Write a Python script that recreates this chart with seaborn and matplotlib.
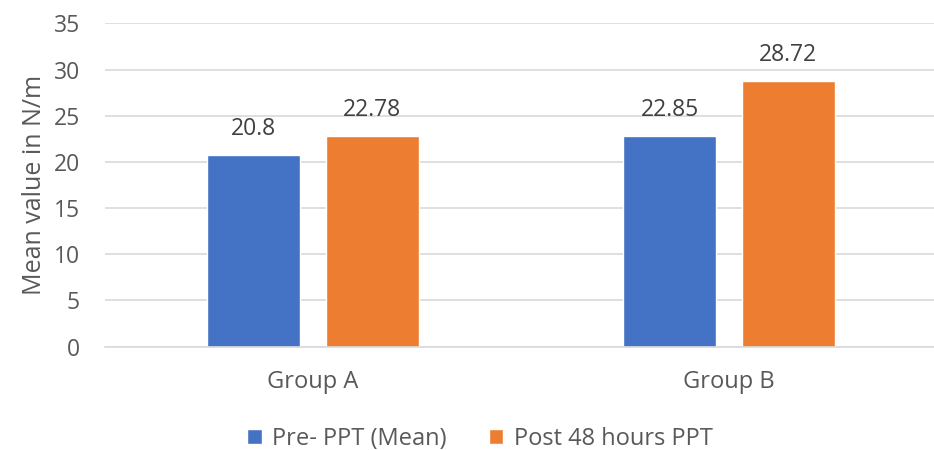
import matplotlib
matplotlib.use("Agg")
import matplotlib.pyplot as plt
import seaborn as sns
import pandas as pd

groups = ["Group A", "Group B"]
series = ["Pre- PPT (Mean)", "Post 48 hours PPT"]
pre_values = [20.8, 22.85]
post_values = [22.78, 28.72]
colors = ["#4472C4", "#ED7D31"]

df = pd.DataFrame({
    "group": groups * 2,
    "series": [series[0]] * 2 + [series[1]] * 2,
    "value": pre_values + post_values,
})

sns.set_theme(style="white")
plt.rcParams["font.family"] = ["Open Sans", "DejaVu Sans"]

fig = plt.figure(figsize=(9.34, 4.5), dpi=100)
ax = fig.add_axes([0.1124, 0.2296, 0.8908, 0.7185])

sns.barplot(data=df, x="group", y="value", hue="series", palette=colors,
            width=0.5714, gap=0.2175, ax=ax, saturation=1, legend=True)

for c in ax.containers:
    ax.bar_label(c, labels=[f"{v:g}" for v in c.datavalues], padding=10,
                 fontsize=16.5, color="#404040")

ax.set_ylim(0, 35)
ax.set_yticks(range(0, 36, 5))
ax.yaxis.grid(True, color="#D9D9D9", linewidth=1.2)
ax.set_axisbelow(True)
for s in ["top", "right", "left"]:
    ax.spines[s].set_visible(False)
ax.spines["bottom"].set_color("#D9D9D9")
ax.spines["bottom"].set_linewidth(1.2)
ax.tick_params(axis="both", length=0, labelsize=16.5, labelcolor="#595959")
ax.tick_params(axis="x", labelsize=17)
ax.tick_params(axis="y", pad=18)
ax.tick_params(axis="x", pad=17)
ax.set_xlabel("")
ax.set_ylabel("Mean value in N/m", fontsize=18, color="#595959", labelpad=5)

ax.legend_.remove()
handles, labels = ax.get_legend_handles_labels()
fig.legend(handles, labels, loc="center", bbox_to_anchor=(0.514, 0.025), ncol=2,
           frameon=False, fontsize=17, handlelength=0.6, handleheight=0.6,
           handletextpad=0.45, columnspacing=1.8, labelcolor="#595959")

fig.savefig("out.png", dpi=100)
